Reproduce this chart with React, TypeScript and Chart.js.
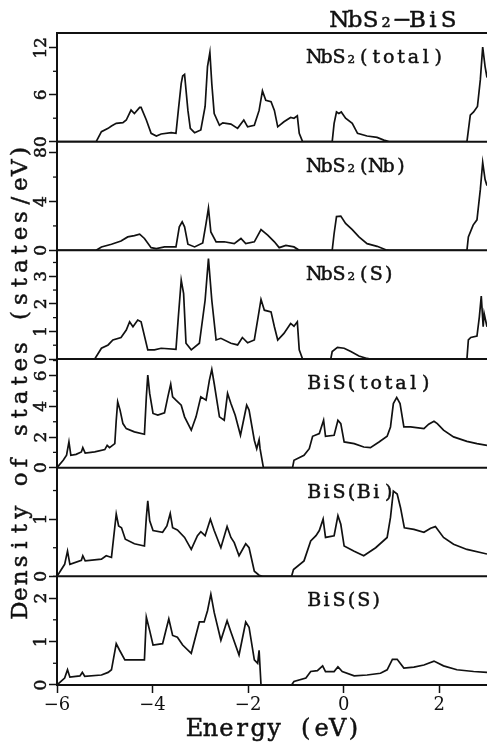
import React, { useEffect, useRef } from 'react';
import { Chart, registerables } from 'chart.js';

Chart.register(...registerables);

// ---------- data (energy in eV, density of states) ----------
const nbs2Total: number[][] = [
  [-6, 0], [-5.18, 0], [-5.07, 1.28], [-4.93, 1.7], [-4.86, 2.0], [-4.76, 2.34], [-4.62, 2.43], [-4.55, 2.77],
  [-4.45, 4.04], [-4.38, 3.6], [-4.27, 4.38], [-4.24, 4.38], [-4.13, 2.77], [-4.03, 1.06], [-3.92, 0.72],
  [-3.82, 0.98], [-3.61, 1.15], [-3.51, 1.06], [-3.46, 4.04], [-3.4, 7.45], [-3.37, 8.4], [-3.33, 8.6],
  [-3.26, 4.0], [-3.21, 1.7], [-3.12, 1.15], [-2.99, 1.5], [-2.9, 4.5], [-2.85, 9.6], [-2.8, 11.4],
  [-2.76, 7.4], [-2.71, 3.6], [-2.6, 2.1], [-2.53, 2.4], [-2.36, 2.25], [-2.22, 1.7], [-2.09, 2.77],
  [-2.01, 1.9], [-1.87, 2.1], [-1.77, 4.0], [-1.7, 6.5], [-1.63, 5.3], [-1.52, 5.1], [-1.45, 4.0],
  [-1.38, 1.9], [-1.25, 2.55], [-1.11, 3.1], [-1.04, 3.0], [-0.97, 3.3], [-0.93, 1.06], [-0.86, 0],
  [-0.24, 0], [-0.2, 2.34], [-0.15, 3.8], [-0.1, 3.6], [-0.05, 3.8], [0.04, 3.0], [0.18, 2.34],
  [0.29, 1.06], [0.49, 0.72], [0.7, 0.55], [0.84, 0.2], [0.95, 0], [2.58, 0], [2.65, 3.4], [2.72, 3.8],
  [2.8, 4.5], [2.86, 7.9], [2.91, 12.1], [2.96, 9.6], [3.0, 8.2],
];

const nbs2Nb: number[][] = [
  [-6, 0], [-5.18, 0], [-5.07, 0.28], [-4.86, 0.5], [-4.66, 0.77], [-4.52, 1.1], [-4.38, 1.2], [-4.27, 1.32],
  [-4.17, 0.97], [-4.03, 0.22], [-3.92, 0.14], [-3.75, 0.28], [-3.51, 0.28], [-3.44, 1.93], [-3.38, 2.34],
  [-3.33, 1.93], [-3.26, 0.5], [-3.12, 0.28], [-2.95, 0.6], [-2.88, 2.2], [-2.83, 3.45], [-2.78, 1.5],
  [-2.67, 0.7], [-2.5, 0.7], [-2.29, 0.55], [-2.15, 0.97], [-2.05, 0.55], [-1.87, 0.7], [-1.73, 1.7],
  [-1.59, 1.24], [-1.45, 0.7], [-1.35, 0.22], [-1.21, 0.41], [-1.04, 0.28], [-0.93, 0], [-0.24, 0],
  [-0.2, 1.38], [-0.15, 2.76], [-0.06, 2.8], [0.04, 2.2], [0.18, 1.7], [0.32, 1.1], [0.49, 0.55],
  [0.7, 0.33], [0.88, 0.05], [0.95, 0], [2.58, 0], [2.61, 1.1], [2.71, 2.07], [2.79, 2.5], [2.86, 4.97],
  [2.91, 7.2], [2.96, 5.8], [3.0, 5.3],
];

const nbs2S: number[][] = [
  [-6, 0], [-5.21, 0], [-5.07, 0.39], [-4.93, 0.51], [-4.83, 0.69], [-4.66, 0.78], [-4.55, 1.05],
  [-4.48, 1.35], [-4.41, 1.17], [-4.31, 1.41], [-4.24, 1.35], [-4.1, 0.33], [-3.96, 0.33], [-3.82, 0.39],
  [-3.51, 0.35], [-3.46, 1.53], [-3.4, 2.86], [-3.35, 2.37], [-3.3, 0.57], [-3.19, 0.33], [-3.02, 0.57],
  [-2.9, 2.13], [-2.83, 3.64], [-2.76, 2.13], [-2.67, 0.69], [-2.57, 0.75], [-2.36, 0.57], [-2.22, 0.51],
  [-2.12, 0.78], [-2.01, 0.59], [-1.87, 0.69], [-1.79, 1.53], [-1.73, 2.16], [-1.66, 1.77], [-1.52, 1.71],
  [-1.45, 1.17], [-1.38, 0.69], [-1.25, 0.93], [-1.11, 1.29], [-1.04, 1.19], [-0.97, 1.35], [-0.93, 0.33],
  [-0.86, 0], [-0.27, 0], [-0.24, 0.27], [-0.13, 0.42], [0.01, 0.39], [0.15, 0.27], [0.32, 0.11],
  [0.49, 0.02], [0.56, 0], [2.58, 0], [2.61, 0.69], [2.66, 0.78], [2.79, 0.83], [2.84, 1.53], [2.88, 2.28],
  [2.92, 1.17], [2.94, 1.65], [3.0, 1.17],
];

const bisTotal: number[][] = [
  [-6, 0], [-5.87, 0.48], [-5.8, 0.81], [-5.75, 1.68], [-5.71, 0.81], [-5.6, 0.87], [-5.49, 1.03],
  [-5.46, 1.31], [-5.41, 0.96], [-5.21, 1.03], [-5.0, 1.18], [-4.95, 1.46], [-4.9, 1.31], [-4.79, 1.57],
  [-4.76, 3.1], [-4.73, 4.3], [-4.68, 3.76], [-4.62, 2.88], [-4.55, 2.55], [-4.38, 2.34], [-4.17, 2.18],
  [-4.13, 4.63], [-4.1, 6.05], [-4.06, 4.85], [-3.99, 3.54], [-3.89, 3.43], [-3.75, 3.58], [-3.68, 4.63],
  [-3.62, 5.46], [-3.58, 4.63], [-3.51, 4.41], [-3.4, 4.08], [-3.33, 3.32], [-3.19, 2.45], [-3.09, 3.32],
  [-2.99, 4.63], [-2.88, 4.41], [-2.81, 5.72], [-2.76, 6.42], [-2.71, 5.5], [-2.6, 3.32], [-2.5, 3.1],
  [-2.43, 4.85], [-2.36, 4.19], [-2.27, 3.43], [-2.16, 2.12], [-2.03, 4.08], [-1.98, 3.76], [-1.87, 1.79],
  [-1.82, 1.24], [-1.77, 1.83], [-1.75, 1.24], [-1.68, 0], [-1.07, 0], [-1.04, 0.48], [-0.83, 0.81],
  [-0.72, 1.24], [-0.65, 2.05], [-0.51, 2.23], [-0.42, 3.1], [-0.38, 2.05], [-0.2, 2.12], [-0.12, 3.1],
  [-0.06, 2.88], [0.01, 1.68], [0.22, 1.57], [0.42, 1.35], [0.56, 1.31], [0.74, 1.68], [0.91, 2.05],
  [0.98, 2.66], [1.04, 4.19], [1.11, 4.59], [1.18, 4.19], [1.26, 2.66], [1.4, 2.66], [1.68, 2.55],
  [1.78, 2.84], [1.89, 3.03], [1.96, 2.88], [2.09, 2.45], [2.3, 2.01], [2.58, 1.72], [2.79, 1.57], [3.0, 1.46],
];

const bisBi: number[][] = [
  [-6, 0], [-5.84, 0.21], [-5.78, 0.44], [-5.73, 0.21], [-5.49, 0.28], [-5.46, 0.36], [-5.41, 0.27],
  [-5.07, 0.3], [-4.97, 0.36], [-4.86, 0.33], [-4.76, 1.09], [-4.71, 0.88], [-4.65, 0.85], [-4.57, 0.65],
  [-4.38, 0.57], [-4.17, 0.53], [-4.13, 1.03], [-4.1, 1.32], [-4.06, 0.97], [-3.99, 0.8], [-3.79, 0.77],
  [-3.7, 0.88], [-3.63, 1.1], [-3.58, 0.85], [-3.48, 0.81], [-3.33, 0.68], [-3.19, 0.47], [-3.06, 0.71],
  [-2.99, 0.78], [-2.9, 0.71], [-2.79, 1.0], [-2.71, 0.8], [-2.57, 0.5], [-2.44, 0.87], [-2.36, 0.68],
  [-2.29, 0.59], [-2.19, 0.36], [-2.05, 0.57], [-1.98, 0.5], [-1.87, 0.09], [-1.77, 0.02], [-1.7, 0],
  [-1.09, 0], [-1.05, 0.12], [-0.83, 0.27], [-0.69, 0.62], [-0.58, 0.71], [-0.51, 0.8], [-0.43, 1.0],
  [-0.38, 0.68], [-0.2, 0.71], [-0.12, 1.06], [-0.06, 0.91], [0.01, 0.53], [0.22, 0.44], [0.42, 0.36],
  [0.67, 0.5], [0.91, 0.68], [0.98, 1.03], [1.04, 1.49], [1.12, 1.44], [1.19, 1.2], [1.27, 0.85],
  [1.47, 0.82], [1.68, 0.77], [1.82, 0.84], [1.92, 0.87], [2.09, 0.68], [2.3, 0.56], [2.58, 0.47], [3.0, 0.39],
];

const bisS: number[][] = [
  [-6, 0], [-5.84, 0.16], [-5.78, 0.35], [-5.73, 0.18], [-5.52, 0.21], [-5.47, 0.29], [-5.42, 0.2],
  [-5.07, 0.23], [-4.93, 0.29], [-4.86, 0.35], [-4.76, 0.95], [-4.69, 0.8], [-4.58, 0.58], [-4.17, 0.58],
  [-4.13, 1.56], [-4.06, 1.25], [-3.99, 0.92], [-3.79, 0.95], [-3.72, 1.26], [-3.66, 1.52], [-3.58, 1.14],
  [-3.48, 1.1], [-3.37, 0.92], [-3.19, 0.73], [-3.02, 1.45], [-2.92, 1.45], [-2.85, 1.71], [-2.78, 2.09],
  [-2.71, 1.67], [-2.57, 1.03], [-2.44, 1.48], [-2.36, 1.22], [-2.19, 0.69], [-2.05, 1.45], [-1.98, 1.33],
  [-1.87, 0.58], [-1.8, 0.5], [-1.77, 0.8], [-1.73, 0], [-1.09, 0], [-1.04, 0.08], [-0.79, 0.16],
  [-0.69, 0.31], [-0.55, 0.33], [-0.44, 0.44], [-0.38, 0.31], [-0.2, 0.31], [-0.12, 0.42], [-0.03, 0.31],
  [0.22, 0.21], [0.49, 0.23], [0.77, 0.27], [0.91, 0.35], [1.02, 0.59], [1.12, 0.59], [1.26, 0.39],
  [1.47, 0.41], [1.68, 0.46], [1.89, 0.55], [2.09, 0.44], [2.37, 0.35], [2.72, 0.31], [3.0, 0.29],
];

const panelLabels = ['NbS₂(total)', 'NbS₂(Nb)', 'NbS₂(S)', 'BiS(total)', 'BiS(Bi)', 'BiS(S)'];
const panelMax = [13.9, 8.9, 3.94, 7.1, 1.9, 2.5];
const panelTicks = [[0, 6, 12], [0, 4, 8], [0, 1, 2, 3], [0, 2, 4, 6], [0, 1], [0, 1, 2]];
const panelMinorTicks = [[3, 9], [2, 6], [0.5, 1.5, 2.5, 3.5], [1, 3, 5, 7], [0.5, 1.5], [0.5, 1.5, 2.5]];
const xTickValues = [-6, -4, -2, 0, 2];
const chartTitle = 'NbS₂−BiS';
const xTitle = 'Energy (eV)';
const yTitle = 'Density of states (states/eV)';

const FONT = '"DejaVu Serif", "Liberation Serif", serif';
const INK = '#111';

function drawMono(
  ctx: CanvasRenderingContext2D, text: string, x: number, y: number,
  pitch: number, size: number, align: 'left' | 'center', angle = 0,
) {
  const chars = Array.from(text);
  const total = chars.length * pitch;
  ctx.save();
  ctx.translate(x, y);
  ctx.rotate(angle);
  ctx.font = `${size}px ${FONT}`;
  ctx.fillStyle = INK;
  ctx.strokeStyle = INK;
  ctx.lineWidth = 0.5;
  ctx.textAlign = 'center';
  ctx.textBaseline = 'alphabetic';
  const start = align === 'center' ? -total / 2 : 0;
  chars.forEach((c, k) => {
    const cx = start + (k + 0.5) * pitch;
    ctx.fillText(c, cx, size * 0.365);
    ctx.strokeText(c, cx, size * 0.365);
  });
  ctx.restore();
}

const overlayPlugin = {
  id: 'dosOverlay',
  afterDraw(chart: any) {
    const ctx: CanvasRenderingContext2D = chart.ctx;
    const area = chart.chartArea;
    ctx.save();
    ctx.strokeStyle = INK;
    ctx.lineCap = 'butt';
    const seg = (x1: number, y1: number, x2: number, y2: number, w: number) => {
      ctx.lineWidth = w;
      ctx.beginPath();
      ctx.moveTo(x1, y1);
      ctx.lineTo(x2, y2);
      ctx.stroke();
    };
    seg(area.left, area.top, area.right, area.top, 2);
    for (let i = 0; i < 6; i++) {
      const sc = chart.scales['y' + i];
      const y0 = sc.getPixelForValue(0);
      seg(area.left, y0, area.right, y0, 2);
      panelMinorTicks[i].forEach((v) => {
        if (v <= panelMax[i]) {
          const py = sc.getPixelForValue(v);
          seg(sc.right - 4, py, sc.right, py, 1.3);
        }
      });
      panelTicks[i].forEach((v) => {
        const py = sc.getPixelForValue(v);
        drawMono(ctx, String(v), sc.right - 17, py, 10.5, 17, 'center', -Math.PI / 2);
      });
      drawMono(ctx, panelLabels[i], area.left + 251, sc.top + 23, 12.4, 19, 'left');
    }
    drawMono(ctx, chartTitle, area.left + 337, 19, 15.6, 23, 'center');
    const xs = chart.scales.x;
    drawMono(ctx, xTitle, (area.left + area.right) / 2 + 2, xs.top + 42, 15.9, 24, 'center');
    drawMono(ctx, yTitle, 19, (area.top + area.bottom) / 2 + 22, 16.4, 23, 'center', -Math.PI / 2);
    ctx.restore();
  },
};

export default function App() {
  const canvasRef = useRef<HTMLCanvasElement | null>(null);

  useEffect(() => {
    const canvas = canvasRef.current;
    if (!canvas) return;
    const series = [nbs2Total, nbs2Nb, nbs2S, bisTotal, bisBi, bisS];
    const datasets = series.map((s, i) => ({
      label: panelLabels[i],
      data: s.map(([x, y]) => ({ x, y })),
      yAxisID: 'y' + i,
      borderColor: INK,
      borderWidth: 1.7,
      pointRadius: 0,
      tension: 0,
      fill: false,
    }));

    const scales: any = {
      x: {
        type: 'linear',
        min: -6,
        max: 3,
        afterBuildTicks: (s: any) => { s.ticks = xTickValues.map((v) => ({ value: v })); },
        afterFit: (s: any) => { s.height = 60; },
        grid: { drawOnChartArea: false, tickLength: 8, tickColor: INK, tickWidth: 1.5 },
        border: { color: INK, width: 2 },
        ticks: {
          color: INK,
          font: { family: FONT, size: 18 },
          padding: 2,
          maxRotation: 0,
          autoSkip: false,
          callback: (v: number) => (v < 0 ? '−' + Math.abs(v) : String(v)),
        },
      },
    };
    for (let i = 0; i < 6; i++) {
      scales['y' + i] = {
        type: 'linear',
        position: 'left',
        stack: 'dos',
        stackWeight: 1,
        weight: 6 - i,
        min: 0,
        max: panelMax[i],
        afterBuildTicks: (s: any) => { s.ticks = panelTicks[i].map((v) => ({ value: v })); },
        afterFit: (s: any) => { s.width = 57; },
        grid: { drawOnChartArea: false, tickLength: 8, tickColor: INK, tickWidth: 1.5 },
        border: { color: INK, width: 2 },
        ticks: { display: false },
      };
    }

    const chart = new Chart(canvas, {
      type: 'line',
      data: { datasets },
      options: {
        responsive: false,
        animation: false,
        devicePixelRatio: 1,
        layout: { padding: { top: 33, left: 0, right: 0, bottom: 0 } },
        plugins: { legend: { display: false }, tooltip: { enabled: false }, title: { display: false } },
        scales,
      } as any,
      plugins: [overlayPlugin],
    });
    return () => chart.destroy();
  }, []);

  return (
    <div style={{ position: 'absolute', left: 0, top: 0, width: 487, height: 745, background: '#fff' }}>
      <canvas ref={canvasRef} width={487} height={745} style={{ display: 'block' }} />
    </div>
  );
}
